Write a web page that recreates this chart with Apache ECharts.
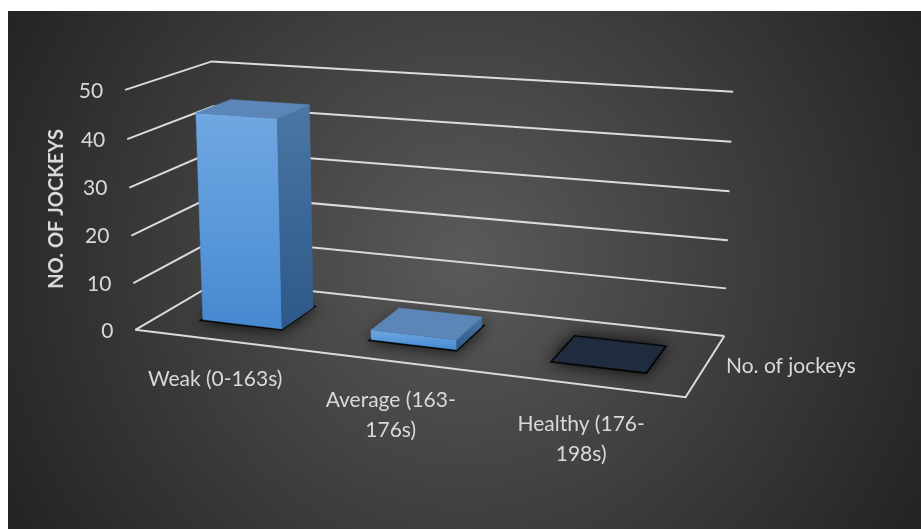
<!DOCTYPE html>
<html>
<head>
<meta charset="utf-8">
<script src="https://cdn.jsdelivr.net/npm/echarts@6/dist/echarts.min.js"></script>
<style>
html,body{margin:0;padding:0;background:#fff;}
#chart{width:921px;height:529px;}
</style>
</head>
<body>
<div id="chart"></div>
<script>
// ---- data ----
const categories = ['Weak (0-163s)', 'Average (163-176s)', 'Healthy (176-198s)'];
const jockeys = [44, 2, 0];
const valueTicks = [0, 10, 20, 30, 40, 50];
const seriesName = 'No. of jockeys';
const axisTitle = 'NO. OF JOCKEYS';

// ---- layout of the perspective box (screen corners of the 3D box) ----
// world: u across categories (0..1), v height (0..1), w depth (0 front .. 1 back)
const boxCorners = [
  [[0, 0, 0], [137, 330]], [[1, 0, 0], [685, 398]],
  [[0, 0, 1], [217, 281]], [[1, 0, 1], [725, 335]],
  [[0, 1, 0], [124, 89]], [[0, 1, 1], [213, 62]], [[1, 1, 1], [733, 92]]
];
const BAR_WIDTH = 0.48;   // fraction of category band
const BAR_W0 = 0.29, BAR_W1 = 0.71; // depth range of bars
const FONT = 'Lato, "Liberation Sans", sans-serif';
const TEXT_COLOR = '#d9d9d9';
const GRID_COLOR = '#dcdcdc';

// fit projective camera (3x4, p23 = 1) by least squares
function fitCamera(pairs) {
  const A = [], b = [];
  pairs.forEach(([[X, Y, Z], [x, y]]) => {
    A.push([X, Y, Z, 1, 0, 0, 0, 0, -x * X, -x * Y, -x * Z]); b.push(x);
    A.push([0, 0, 0, 0, X, Y, Z, 1, -y * X, -y * Y, -y * Z]); b.push(y);
  });
  const n = 11;
  const M = [];
  for (let i = 0; i < n; i++) {
    M.push(new Array(n + 1).fill(0));
    for (let j = 0; j < n; j++) for (let k = 0; k < A.length; k++) M[i][j] += A[k][i] * A[k][j];
    for (let k = 0; k < A.length; k++) M[i][n] += A[k][i] * b[k];
  }
  for (let c = 0; c < n; c++) {
    let piv = c;
    for (let r = c + 1; r < n; r++) if (Math.abs(M[r][c]) > Math.abs(M[piv][c])) piv = r;
    [M[c], M[piv]] = [M[piv], M[c]];
    for (let r = 0; r < n; r++) {
      if (r === c) continue;
      const f = M[r][c] / M[c][c];
      for (let k = c; k <= n; k++) M[r][k] -= f * M[c][k];
    }
  }
  return M.map((row, i) => row[n] / row[i]);
}
const cam = fitCamera(boxCorners);
function proj(u, v, w) {
  const d = cam[8] * u + cam[9] * v + cam[10] * w + 1;
  return [(cam[0] * u + cam[1] * v + cam[2] * w + cam[3]) / d,
          (cam[4] * u + cam[5] * v + cam[6] * w + cam[7]) / d];
}
function area(pts) {
  let s = 0;
  for (let i = 0; i < pts.length; i++) {
    const a = pts[i], c = pts[(i + 1) % pts.length];
    s += a[0] * c[1] - c[0] * a[1];
  }
  return s / 2;
}
function normU(cs, px) { return (px - cs.x) / cs.width; }
function normV(cs, py) { return (cs.y + cs.height - py) / cs.height; }

function renderGrid(params, api) {
  const cs = params.coordSys;
  const t = api.value(1);
  const v = normV(cs, api.coord([0, t])[1]);
  const lineStyle = { stroke: GRID_COLOR, lineWidth: 2, fill: null };
  const children = [
    { type: 'polyline', shape: { points: [proj(0, v, 0), proj(0, v, 1), proj(1, v, 1)] }, style: lineStyle },
  ];
  const lp = proj(0, v, 0);
  children.push({ type: 'text', x: lp[0] - 22, y: lp[1] + 1,
    style: { text: String(t), fill: TEXT_COLOR, font: '21px ' + FONT, align: 'right', verticalAlign: 'middle' } });
  if (t === 0) {
    children.push({ type: 'polyline', shape: { points: [proj(0, 0, 0), proj(1, 0, 0), proj(1, 0, 1)] }, style: lineStyle });
    const dp = proj(1, 0, 0.5);
    children.push({ type: 'text', x: dp[0] + 20, y: dp[1] + 1,
      style: { text: seriesName, fill: TEXT_COLOR, font: '21px ' + FONT, align: 'left', verticalAlign: 'middle' } });
  }
  return { type: 'group', children };
}

function barGeom(params, api) {
  const cs = params.coordSys;
  const idx = api.value(0), val = api.value(1);
  const topPt = api.coord([idx, val]);
  const basePt = api.coord([idx, 0]);
  const uc = normU(cs, topPt[0]);
  const h = normV(cs, topPt[1]) - normV(cs, basePt[1]);
  const half = api.size([1, 0])[0] / cs.width * BAR_WIDTH / 2;
  return { u0: uc - half, u1: uc + half, h, val };
}

function renderShadow(params, api) {
  const g = barGeom(params, api);
  const e = 0.004;
  const pts = [proj(g.u0 - e, 0, BAR_W0 - 0.03), proj(g.u1 + e, 0, BAR_W0 - 0.03), proj(g.u1 + e, 0, BAR_W1 + 0.03), proj(g.u0 - e, 0, BAR_W1 + 0.03)];
  return { type: 'polygon', shape: { points: pts },
    style: { fill: 'rgba(0,0,0,0.85)', shadowBlur: 16, shadowColor: 'rgba(0,0,0,1)' } };
}

function renderBar(params, api) {
  const { u0, u1, h, val } = barGeom(params, api);
  const w0 = BAR_W0, w1 = BAR_W1;
  const faces = [];
  const frontFill = { type: 'linear', x: 0, y: 0, x2: 0, y2: 1,
    colorStops: [{ offset: 0, color: '#6fa8e2' }, { offset: 1, color: '#4689d0' }] };
  const sideFill = { type: 'linear', x: 0, y: 0, x2: 0, y2: 1,
    colorStops: [{ offset: 0, color: '#4a77a6' }, { offset: 1, color: '#2d5887' }] };
  if (h > 0) {
    faces.push({ pts: [proj(u0, 0, w0), proj(u1, 0, w0), proj(u1, h, w0), proj(u0, h, w0)], fill: frontFill });
    faces.push({ pts: [proj(u1, 0, w0), proj(u1, 0, w1), proj(u1, h, w1), proj(u1, h, w0)], fill: sideFill });
    faces.push({ pts: [proj(u0, 0, w1), proj(u0, 0, w0), proj(u0, h, w0), proj(u0, h, w1)], fill: sideFill });
    faces.push({ pts: [proj(u1, 0, w1), proj(u0, 0, w1), proj(u0, h, w1), proj(u1, h, w1)], fill: sideFill });
  }
  faces.push({ pts: [proj(u0, h, w0), proj(u1, h, w0), proj(u1, h, w1), proj(u0, h, w1)],
    fill: val === 0 ? '#1f2c3d' : '#5b86b7' });
  const children = faces.filter(f => area(f.pts) < 0).map(f => ({
    type: 'polygon', shape: { points: f.pts }, style: { fill: f.fill, stroke: f.fill, lineWidth: 0.5 }
  }));
  return { type: 'group', children };
}

function renderCatLabel(params, api) {
  const cs = params.coordSys;
  const idx = api.value(0);
  const u = normU(cs, api.coord([idx, 0])[0]);
  const p = proj(u, 0, 0);
  let text = categories[idx];
  if (text.length > 14) text = text.replace(/(\(\d+-)(\d)/, '$1\n$2');
  return { type: 'text', x: p[0] - 3, y: p[1] + 24,
    style: { text, fill: TEXT_COLOR, font: '21px ' + FONT, align: 'center', verticalAlign: 'top', lineHeight: 30 } };
}

const chart = echarts.init(document.getElementById('chart'));
chart.setOption({
  animation: false,
  backgroundColor: '#ffffff',
  graphic: [
    { type: 'rect', z: -10, silent: true, shape: { x: 8, y: 11, width: 913, height: 518 },
      style: { fill: { type: 'radial', x: 0.5, y: 0.48, r: 1.0,
        colorStops: [{ offset: 0, color: '#5a5a5a' }, { offset: 1, color: '#242424' }] } } },
    { type: 'text', x: 57, y: 209, rotation: Math.PI / 2, z: 10,
      style: { text: axisTitle, fill: TEXT_COLOR, font: 'bold 20px ' + FONT, align: 'center', verticalAlign: 'middle' } }
  ],
  grid: { left: 0, right: 0, top: 0, bottom: 0, containLabel: false },
  xAxis: { type: 'category', data: categories, show: false },
  yAxis: { type: 'value', min: 0, max: 50, interval: 10, show: false },
  series: [
    { type: 'custom', name: 'grid', silent: true, z: 1, renderItem: renderGrid,
      data: valueTicks.map(t => [0, t]) },
    { type: 'custom', name: 'shadow', silent: true, z: 2, renderItem: renderShadow,
      data: jockeys.map((v, i) => [i, v]) },
    { type: 'custom', name: seriesName, silent: true, z: 3, renderItem: renderBar,
      data: jockeys.map((v, i) => [i, v]) },
    { type: 'custom', name: 'labels', silent: true, z: 4, renderItem: renderCatLabel,
      data: categories.map((c, i) => [i, 0]) }
  ]
});
</script>
</body>
</html>
